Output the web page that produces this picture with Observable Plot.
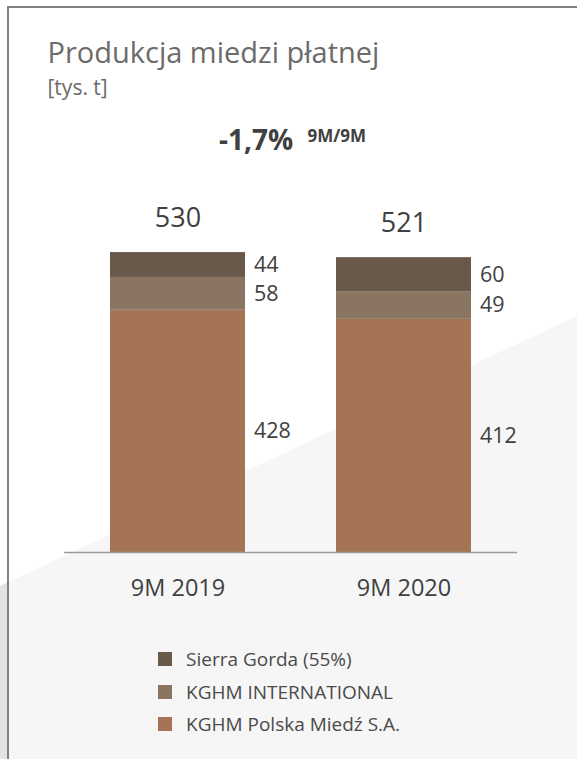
<!DOCTYPE html>
<html>
<head>
<meta charset="utf-8">
<script src="https://cdn.jsdelivr.net/npm/d3@7"></script>
<script src="https://cdn.jsdelivr.net/npm/@observablehq/plot@0.6"></script>
<style>
  html, body { margin: 0; padding: 0; background: #ffffff; }
  #page { position: relative; width: 577px; height: 759px; overflow: hidden; background: #ffffff; font-family: "Open Sans", sans-serif; }
  .abs { position: absolute; }
  #bgLight { left: 0; top: 0; width: 577px; height: 759px; background: #f6f6f6;
    clip-path: polygon(0px 586px, 577px 316px, 577px 759px, 0px 759px); }
  #bgDark { left: 0; top: 0; width: 8px; height: 759px; background: #e3e3e3;
    clip-path: polygon(0px 586px, 8px 582px, 8px 759px, 0px 759px); }
  #frame { left: 7px; top: 6px; width: 600px; height: 800px; border-top: 2px solid #808080; border-left: 2px solid #808080; }
  .t { white-space: nowrap; line-height: 1; }
  #title { left: 47.5px; top: 37.3px; font-size: 29px; color: #6b6b6b; }
  #subtitle { left: 47.5px; top: 77px; font-size: 21px; color: #6b6b6b; }
  #change { left: 219px; top: 125.1px; font-size: 28px; font-weight: 700; color: #404040; }
  #changeSup { left: 307.5px; top: 126.9px; font-size: 17px; font-weight: 700; color: #404040; }
  #chart { left: 0; top: 180px; }
  .lg-sw { width: 14px; height: 14px; }
  .lg-tx { font-size: 19px; color: #4a4a4a; }
</style>
</head>
<body>
<div id="page">
  <div id="bgLight" class="abs"></div>
  <div id="bgDark" class="abs"></div>
  <div id="frame" class="abs"></div>
  <div id="title" class="abs t">Produkcja miedzi płatnej</div>
  <div id="subtitle" class="abs t">[tys. t]</div>
  <div id="change" class="abs t">-1,7%</div>
  <div id="changeSup" class="abs t">9M/9M</div>
  <div id="chart" class="abs"></div>
  <div id="legend"></div>
</div>
<script>
// ---- data ----
const periods = ["9M 2019", "9M 2020"];
const seriesNames = ["KGHM Polska Miedź S.A.", "KGHM INTERNATIONAL", "Sierra Gorda (55%)"];
const polskaValues = [428, 412];
const internationalValues = [58, 49];
const sierraValues = [44, 60];
const totals = [530, 521];
const colors = ["#a57455", "#8a7562", "#69594a"];
const legendOrder = ["Sierra Gorda (55%)", "KGHM INTERNATIONAL", "KGHM Polska Miedź S.A."];

// ---- table built from arrays ----
const seriesValues = [polskaValues, internationalValues, sierraValues];
const rows = [];
periods.forEach((p, i) => {
  seriesNames.forEach((s, j) => rows.push({period: p, series: s, value: seriesValues[j][i]}));
});
const totalRows = periods.map((p, i) => ({period: p, total: totals[i]}));

const chart = Plot.plot({
  width: 577,
  height: 430,
  marginLeft: 64,
  marginRight: 60,
  marginTop: 20,
  marginBottom: 58,
  style: {background: "transparent", fontFamily: "Open Sans, sans-serif", overflow: "visible"},
  x: {domain: periods, paddingInner: 0.404, paddingOuter: 0.202, axis: null},
  y: {domain: [0, 622], axis: null},
  color: {domain: seriesNames, range: colors},
  marks: [
    Plot.barY(rows, {x: "period", y: "value", fill: "series"}),
    Plot.ruleY([0], {stroke: "#9a9a9a", strokeWidth: 1.5}),
    Plot.text(rows, Plot.stackY({
      x: "period", y: "value", z: "series",
      text: d => String(d.value),
      dx: 76, textAnchor: "start", fontSize: 21.5, fill: "#404040"
    })),
    Plot.text(totalRows, {
      x: "period", y: "total", text: d => String(d.total),
      dy: -25.5, lineAnchor: "bottom", fontSize: 27, fill: "#404040"
    }),
    Plot.text(periods, {
      x: d => d, frameAnchor: "bottom", text: d => d,
      dy: 43, lineAnchor: "bottom", fontSize: 23.5, fill: "#404040"
    })
  ]
});
document.getElementById("chart").appendChild(chart);

// ---- legend (HTML, below the SVG) ----
const legend = document.getElementById("legend");
const colorOf = Object.fromEntries(seriesNames.map((s, i) => [s, colors[i]]));
legendOrder.forEach((name, i) => {
  const top = 652 + i * 32.7;
  const sw = document.createElement("div");
  sw.className = "abs lg-sw";
  sw.style.left = "158px";
  sw.style.top = top + "px";
  sw.style.background = colorOf[name];
  legend.appendChild(sw);
  const tx = document.createElement("div");
  tx.className = "abs t lg-tx";
  tx.style.left = "186px";
  tx.style.top = (top + 14.7 - 16.9) + "px";
  tx.textContent = name;
  legend.appendChild(tx);
});
</script>
</body>
</html>
